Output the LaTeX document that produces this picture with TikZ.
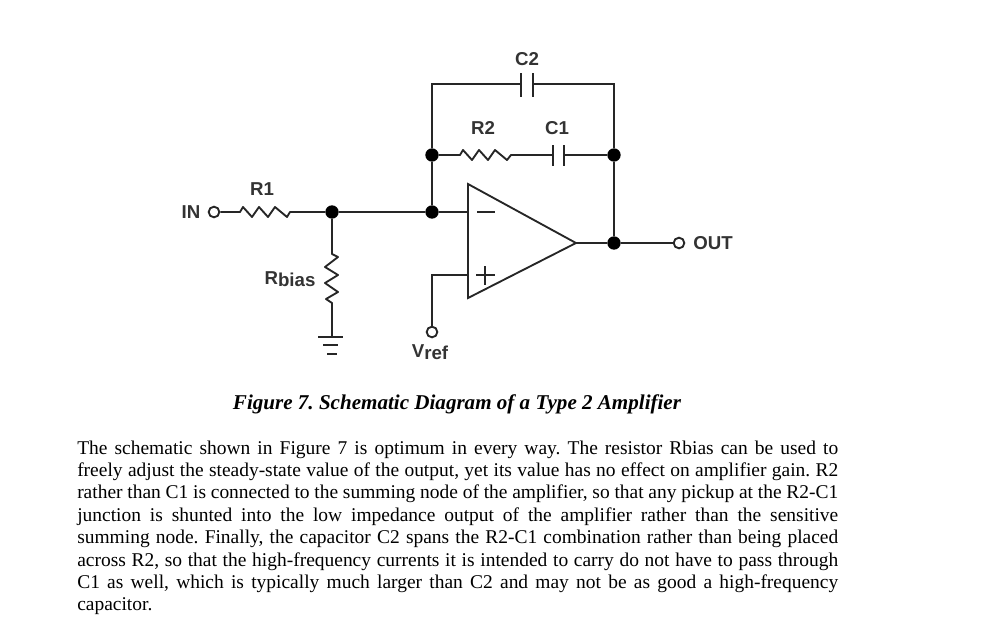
\documentclass[tikz,border=0pt]{standalone}
\usepackage{fontspec}
\setmainfont{Liberation Serif}
\setsansfont{Liberation Sans}
\tikzset{
  wire/.style={line width=1.4pt,color=black!85},
  dot/.style={circle,fill=black,inner sep=0pt,minimum size=10pt},
  term/.style={circle,draw=black!85,line width=1.4pt,fill=white,inner sep=0pt,minimum size=8pt},
  lbl/.style={font=\sffamily\fontsize{14pt}{14pt}\selectfont\bfseries,text=black!80,inner sep=0pt},
  body/.style={font=\fontsize{14.6pt}{16pt}\selectfont\frenchspacing,anchor=base west,inner sep=0pt},
  plate/.style={line width=1.4pt,color=black!85}
}
\newcommand{\bodyline}[3]{\node[body] (#1) at (77,#2) {\makebox[570.75pt][s]{#3}};}
\begin{document}
\begin{tikzpicture}[x=0.75pt,y=-0.75pt]
  \useasboundingbox (0,0) rectangle (986,626);
  % Junctions
  \node[dot] (j1) at (332,212) {};
  \node[dot] (j2) at (432,212) {};
  \node[dot] (j3) at (432,155) {};
  \node[dot] (j4) at (614,155) {};
  \node[dot] (j5) at (614,243) {};
  % Terminals
  \node[term] (in) at (214,212) {};
  \node[term] (out) at (679,243) {};
  \node[term] (vref) at (432,332) {};
  % Corners
  \coordinate (tl) at (432,84);
  \coordinate (tr) at (614,84);
  \coordinate (pl) at (432,275);
  % Opamp
  \coordinate (ota) at (468,184);
  \coordinate (otb) at (468,298);
  \coordinate (otc) at (576,243);
  \coordinate (minus) at (468,212);
  \coordinate (plus) at (468,275);
  \draw[wire] (ota) -- (otb) -- (otc) -- cycle;
  \draw[wire] (477,212) -- (495,212);
  \draw[wire] (476,275) -- (495,275);
  \draw[wire] (485,266) -- (485,285);
  % Feedback
  \coordinate (c2a) at (521,84);
  \coordinate (c2b) at (533,84);
  \draw[wire] (j2) -- (j3) -- (tl) -- (c2a);
  \draw[wire] (c2b) -- (tr) -- (j4) -- (j5);
  \draw[plate] (521,73) -- (521,97);
  \draw[plate] (533,73) -- (533,97);
  \coordinate (r2a) at (460,155);
  \coordinate (r2b) at (511,155);
  \coordinate (c1a) at (553,155);
  \coordinate (c1b) at (564,155);
  \draw[wire,line join=round] (j3) -- (r2a) -- ++(3,-5) -- ++(9,10) -- ++(7,-10) -- ++(9,10) -- ++(7,-10) -- ++(12,10) -- ++(4,-5) -- (r2b) -- (c1a);
  \draw[wire] (c1b) -- (j4);
  \draw[plate] (553,145) -- (553,166);
  \draw[plate] (564,145) -- (564,166);
  % Input
  \coordinate (r1a) at (240,212);
  \coordinate (r1b) at (290,212);
  \draw[wire,line join=round] (in) -- (r1a) -- ++(3,-5) -- ++(9,10) -- ++(7,-10) -- ++(9,10) -- ++(7,-10) -- ++(12,10) -- ++(3,-5) -- (r1b) -- (j1) -- (j2) -- (minus);
  % Rbias
  \coordinate (gnd) at (332,337);
  \draw[wire,line join=round] (j1) -- (332,254) -- (338,257) -- (325,267) -- (338,275) -- (325,283) -- (338,292) -- (326,299) -- (332,303) -- (gnd);
  \draw[wire] (318,337) -- (343,337);
  \draw[wire] (323,345) -- (338,345);
  \draw[wire] (327,354) -- (337,354);
  % Output
  \draw[wire] (otc) -- (j5) -- (out);
  \draw[wire] (vref) -- (pl) -- (plus);
  % Labels
  \node[lbl] (lin) at (191,212) {IN};
  \node[lbl] (lr1) at (262,189) {R1};
  \node[lbl] (lrb) at (290,279) {R\raisebox{-2pt}{bias}};
  \node[lbl] (lc2) at (527,59) {C2};
  \node[lbl] (lr2) at (483,128) {R2};
  \node[lbl] (lc1) at (557,128) {C1};
  \node[lbl] (lout) at (713,243) {OUT};
  \node[lbl] (lvr) at (430,352) {V\raisebox{-2pt}{ref}};
  % Text
  \node[font=\fontsize{15.8pt}{16pt}\selectfont\bfseries\itshape\frenchspacing,inner sep=0pt] (cap) at (457,404) {Figure 7. Schematic Diagram of a Type 2 Amplifier};
  \bodyline{t1}{454}{The schematic shown in Figure 7 is optimum in every way. The resistor Rbias can be used to}
  \bodyline{t2}{476.4}{freely adjust the steady-state value of the output, yet its value has no effect on amplifier gain. R2}
  \bodyline{t3}{498.8}{rather than C1 is connected to the summing node of the amplifier, so that any pickup at the R2-C1}
  \bodyline{t4}{521.2}{junction is shunted into the low impedance output of the amplifier rather than the sensitive}
  \bodyline{t5}{543.6}{summing node. Finally, the capacitor C2 spans the R2-C1 combination rather than being placed}
  \bodyline{t6}{566}{across R2, so that the high-frequency currents it is intended to carry do not have to pass through}
  \bodyline{t7}{588.4}{C1 as well, which is typically much larger than C2 and may not be as good a high-frequency}
  \node[body] (t8) at (77,610.8) {capacitor.};
\end{tikzpicture}
\end{document}
